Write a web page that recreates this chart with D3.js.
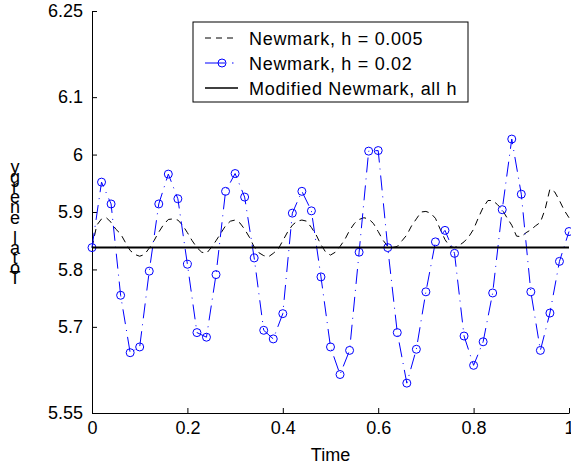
<!DOCTYPE html>
<html>
<head>
<meta charset="utf-8">
<script src="https://d3js.org/d3.v7.min.js"></script>
<style>
  body { margin: 0; background: #fff; }
  text { font-family: "Liberation Sans", Arial, sans-serif; fill: #000; }
</style>
</head>
<body>
<div id="chart"></div>
<script>

    // ---- data ----
    // Newmark, h = 0.005 (sampled every 0.01)
    var fineStep = 0.01
    var fineEnergy = [
        5.838, 5.877, 5.888, 5.890, 5.882, 5.870, 5.862, 5.847, 5.833, 5.826,
        5.823, 5.826, 5.837, 5.850, 5.865, 5.878, 5.887, 5.888, 5.886, 5.877,
        5.864, 5.850, 5.838, 5.830, 5.828, 5.838, 5.850, 5.863, 5.876, 5.884,
        5.886, 5.881, 5.870, 5.856, 5.839, 5.829, 5.824, 5.822, 5.828, 5.835,
        5.850, 5.865, 5.877, 5.884, 5.886, 5.884, 5.873, 5.860, 5.843, 5.830,
        5.825, 5.830, 5.840, 5.852, 5.868, 5.880, 5.887, 5.890, 5.888, 5.880,
        5.866, 5.851, 5.840, 5.838, 5.840, 5.850, 5.860, 5.876, 5.888, 5.900,
        5.901, 5.898, 5.889, 5.870, 5.852, 5.840, 5.838, 5.842, 5.848, 5.857,
        5.870, 5.890, 5.908, 5.920, 5.920, 5.913, 5.904, 5.890, 5.877, 5.858,
        5.857, 5.864, 5.869, 5.876, 5.882, 5.905, 5.940, 5.935, 5.920, 5.903,
        5.890
    ]

    // Newmark, h = 0.02
    var coarseStep = 0.02
    var coarseEnergy = [
        5.838, 5.952, 5.914, 5.755, 5.655, 5.665, 5.797, 5.914, 5.966, 5.923,
        5.809, 5.690, 5.682, 5.791, 5.936, 5.967, 5.926, 5.820, 5.694, 5.679,
        5.723, 5.898, 5.936, 5.902, 5.787, 5.665, 5.617, 5.659, 5.830, 6.006,
        6.007, 5.838, 5.690, 5.602, 5.661, 5.761, 5.848, 5.868, 5.828, 5.684,
        5.633, 5.674, 5.759, 5.904, 6.027, 5.931, 5.761, 5.659, 5.724, 5.814,
        5.866
    ]

    // Modified Newmark, all h (constant)
    var modifiedTime = [0, 1]
    var modifiedEnergy = [5.838, 5.838]

    var xTicks = [0, 0.2, 0.4, 0.6, 0.8, 1]
    var xTickLabels = ["0", "0.2", "0.4", "0.6", "0.8", "1"]
    var yTicks = [5.55, 5.7, 5.8, 5.9, 6, 6.1, 6.25]
    var yTickLabels = ["5.55", "5.7", "5.8", "5.9", "6", "6.1", "6.25"]

    var legendLabels = ["Newmark, h = 0.005", "Newmark, h = 0.02", "Modified Newmark, all h"]
    var yLabel = "Total energy"
    var xLabel = "Time"

    // ---- layout ----
    var W = 571, H = 468
    var margin = { top: 11, right: 2, bottom: 55, left: 92 },
        width = W - margin.left - margin.right,
        height = H - margin.top - margin.bottom;

    var svg = d3.select("#chart")
        .append("svg")
        .attr("width", W)
        .attr("height", H)

    var g = svg.append("g")
        .attr("transform", "translate(" + margin.left + "," + margin.top + ")")

    var x = d3.scaleLinear().domain([0, 1]).range([0, width])
    var y = d3.scaleLinear().domain([5.55, 6.25]).range([height, 0])

    // axes: ticks point inward, no box
    var xAxis = g.append("g")
        .attr("transform", "translate(0," + height + ")")
        .call(d3.axisBottom(x).tickValues(xTicks)
            .tickFormat(function (d, i) { return xTickLabels[i] })
            .tickSizeInner(-5).tickSizeOuter(0).tickPadding(12))
    var yAxis = g.append("g")
        .call(d3.axisLeft(y).tickValues(yTicks)
            .tickFormat(function (d, i) { return yTickLabels[i] })
            .tickSizeInner(-5).tickSizeOuter(0).tickPadding(9))

    g.selectAll(".tick text").style("font-size", "18px").style("font-family", "'Liberation Sans', Arial, sans-serif")
    g.selectAll(".domain, .tick line").attr("stroke", "#000")
    xAxis.selectAll(".tick text").attr("dy", "0.5em")

    // dashed black line (h = 0.005)
    var line = d3.line()
        .x(function (d) { return x(d[0]) })
        .y(function (d) { return y(d[1]) })

    var fineData = fineEnergy.map(function (v, i) { return [i * fineStep, v] })
    g.append("path")
        .datum(fineData)
        .attr("d", line)
        .attr("fill", "none")
        .attr("stroke", "#000")
        .attr("stroke-width", 1)
        .attr("stroke-dasharray", "7,5")

    // blue dash-dot line with circles (h = 0.02)
    var coarseData = coarseEnergy.map(function (v, i) { return [i * coarseStep, v] })
    g.append("path")
        .datum(coarseData)
        .attr("d", line)
        .attr("fill", "none")
        .attr("stroke", "#0000ff")
        .attr("stroke-width", 1)
        .attr("stroke-dasharray", "15,6,1,6")
    g.selectAll("circle.pt")
        .data(coarseData)
        .enter()
        .append("circle")
        .attr("class", "pt")
        .attr("cx", function (d) { return x(d[0]) })
        .attr("cy", function (d) { return y(d[1]) })
        .attr("r", 4)
        .attr("fill", "none")
        .attr("stroke", "#0000ff")
        .attr("stroke-width", 1)

    // solid black line (modified Newmark)
    var modData = modifiedTime.map(function (t, i) { return [t, modifiedEnergy[i]] })
    g.append("path")
        .datum(modData)
        .attr("d", line)
        .attr("fill", "none")
        .attr("stroke", "#000")
        .attr("stroke-width", 2)

    // axis labels
    svg.append("text")
        .attr("x", margin.left + x(0.5))
        .attr("y", 461)
        .attr("text-anchor", "middle")
        .style("font-size", "18px")
        .text(xLabel)

    // y label: glyphs stacked, read bottom to top
    var chars = yLabel.split("").reverse()
    svg.append("g").selectAll("text")
        .data(chars)
        .enter()
        .append("text")
        .attr("x", 15)
        .attr("y", function (d, i) { return 173 + i * 10.1 })
        .attr("text-anchor", "middle")
        .style("font-size", "18px")
        .text(function (d) { return d })

    // legend
    var lg = svg.append("g").attr("transform", "translate(193,22)")
    lg.append("rect")
        .attr("width", 275).attr("height", 80)
        .attr("fill", "#fff").attr("stroke", "#000").attr("stroke-width", 1)

    var rowY = [16, 41, 66]
    lg.append("line").attr("x1", 12).attr("x2", 45).attr("y1", rowY[0]).attr("y2", rowY[0])
        .attr("stroke", "#000").attr("stroke-dasharray", "6,5")
    lg.append("line").attr("x1", 12).attr("x2", 45).attr("y1", rowY[1]).attr("y2", rowY[1])
        .attr("stroke", "#0000ff").attr("stroke-dasharray", "20,7,1.5,5")
    lg.append("circle").attr("cx", 29).attr("cy", rowY[1]).attr("r", 4)
        .attr("fill", "none").attr("stroke", "#0000ff")
    lg.append("line").attr("x1", 12).attr("x2", 45).attr("y1", rowY[2]).attr("y2", rowY[2])
        .attr("stroke", "#000").attr("stroke-width", 1.5)

    lg.selectAll("text.lab")
        .data(legendLabels)
        .enter()
        .append("text")
        .attr("class", "lab")
        .attr("x", 56)
        .attr("y", function (d, i) { return rowY[i] + 7 })
        .style("font-size", "18px")
        .style("letter-spacing", "0.7px")
        .text(function (d) { return d })

</script>
</body>
</html>
